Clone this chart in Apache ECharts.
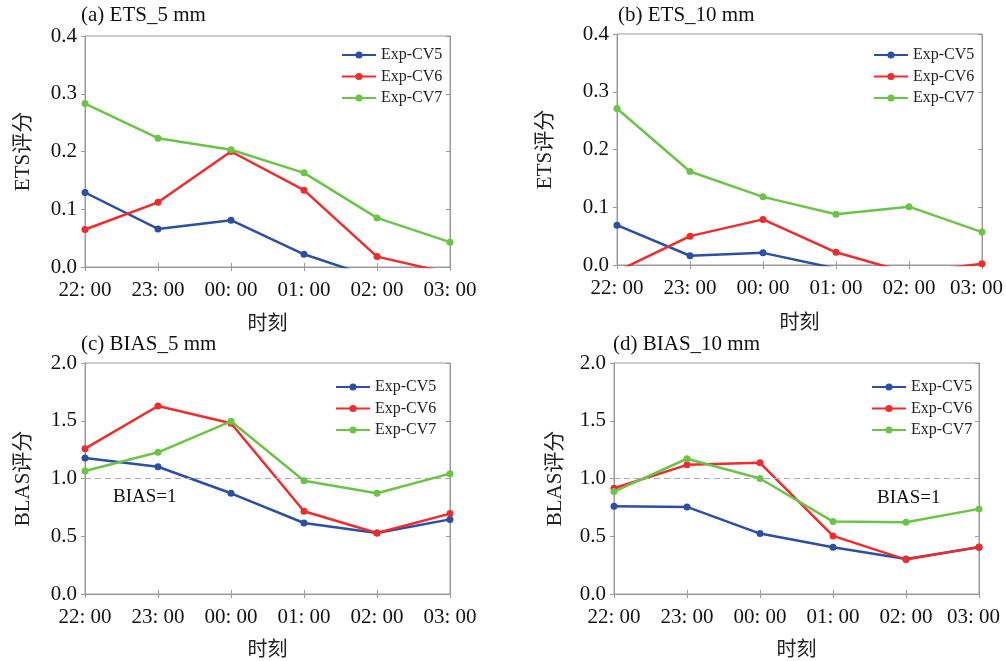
<!DOCTYPE html>
<html>
<head>
<meta charset="utf-8">
<script src="https://cdn.jsdelivr.net/npm/echarts@6/dist/echarts.min.js"></script>
<style>html,body{margin:0;padding:0;background:#fff}#c{width:1006px;height:661px}</style>
</head>
<body>
<div id="c"></div>
<script>
const times = ['22: 00','23: 00','00: 00','01: 00','02: 00','03: 00'];
const seriesNames = ['Exp-CV5','Exp-CV6','Exp-CV7'];
const colors = ['#2b4ea6','#f02b2b','#6cc447'];

const ets5_cv5 = [0.129, 0.066, 0.081, 0.022, -0.020, -0.040];
const ets5_cv6 = [0.065, 0.112, 0.200, 0.133, 0.018, -0.011];
const ets5_cv7 = [0.283, 0.223, 0.203, 0.163, 0.085, 0.043];

const ets10_cv5 = [0.069, 0.016, 0.021, -0.006, -0.020, -0.030];
const ets10_cv6 = [-0.011, 0.050, 0.079, 0.022, -0.014, 0.002];
const ets10_cv7 = [0.271, 0.162, 0.118, 0.088, 0.101, 0.057];

const bias5_cv5 = [1.177, 1.102, 0.872, 0.615, 0.528, 0.646];
const bias5_cv6 = [1.258, 1.628, 1.478, 0.716, 0.528, 0.696];
const bias5_cv7 = [1.065, 1.227, 1.495, 0.981, 0.872, 1.042];

const bias10_cv5 = [0.760, 0.754, 0.523, 0.405, 0.303, 0.405];
const bias10_cv6 = [0.916, 1.118, 1.136, 0.503, 0.298, 0.408];
const bias10_cv7 = [0.887, 1.171, 1.000, 0.627, 0.621, 0.737];

const panelTitles = ['(a) ETS_5 mm','(b) ETS_10 mm','(c) BIAS_5 mm','(d) BIAS_10 mm'];
const yNames = ['ETS评分','ETS评分','BLAS评分','BLAS评分'];
const xName = '时刻';
const yMax = [0.4, 0.4, 2.0, 2.0];
const yInterval = [0.1, 0.1, 0.5, 0.5];
const refValue = 1;
const refLabel = 'BIAS=1';
const panelData = [
  [ets5_cv5, ets5_cv6, ets5_cv7],
  [ets10_cv5, ets10_cv6, ets10_cv7],
  [bias5_cv5, bias5_cv6, bias5_cv7],
  [bias10_cv5, bias10_cv6, bias10_cv7]
];

const FONT = '"Liberation Serif", "Times New Roman", "Noto Sans CJK SC", serif';
const grids = [
  {left: 85, top: 36, width: 365, height: 231},
  {left: 617, top: 34, width: 365, height: 231},
  {left: 85, top: 363, width: 365, height: 231},
  {left: 614, top: 363, width: 365, height: 231}
];
const yNameGap = [51, 61, 51, 48];
const xNameGap = [48, 49, 47, 47];
const legendPos = [
  {left: 336, top: 42}, {left: 868, top: 42}, {left: 330, top: 374}, {left: 866, top: 374}
];
const titlePos = [
  {left: 81, top: 5}, {left: 618, top: 5}, {left: 81, top: 334}, {left: 613, top: 334}
];
const refTextPos = [null, null, {left: 113, top: 488}, {left: 877, top: 489}];

const axisColor = '#9a9a9a';
const option = {
  backgroundColor: '#fff',
  animation: false,
  title: [], grid: [], xAxis: [], yAxis: [], legend: [], series: [], graphic: []
};

for (let p = 0; p < 4; p++) {
  const rightPanel = p % 2 === 1;
  option.title.push({
    text: panelTitles[p], left: titlePos[p].left, top: titlePos[p].top, padding: 0,
    textStyle: {fontFamily: FONT, fontSize: 21, fontWeight: 'normal', color: '#111'}
  });
  option.grid.push(Object.assign({show: true, borderColor: axisColor, borderWidth: 1, backgroundColor: 'transparent', containLabel: false, outerBoundsMode: 'none'}, grids[p]));
  option.xAxis.push({
    type: 'category', gridIndex: p, data: times, boundaryGap: false,
    name: xName, nameLocation: 'middle', nameGap: xNameGap[p],
    nameTextStyle: {fontFamily: FONT, fontSize: 20, color: '#222'},
    axisLine: {lineStyle: {color: axisColor}},
    axisTick: {inside: true, length: 4, interval: 0, lineStyle: {color: axisColor}},
    axisLabel: {
      interval: 0, hideOverlap: false,
      fontFamily: FONT, fontSize: 21, color: '#111', margin: 13,
      formatter: (v, i) => (rightPanel && i === times.length - 1) ? '{s|' + v + '}' : v,
      rich: {s: {fontFamily: FONT, fontSize: 21, color: '#111', padding: [0, 11, 0, 0]}}
    },
    splitLine: {show: false}
  });
  option.xAxis.push({
    type: 'category', gridIndex: p, data: times, boundaryGap: false, position: 'top',
    axisLine: {lineStyle: {color: axisColor}},
    axisTick: {inside: true, length: 4, interval: 0, lineStyle: {color: axisColor}},
    axisLabel: {show: false}, splitLine: {show: false}
  });
  option.yAxis.push({
    type: 'value', gridIndex: p, min: 0, max: yMax[p], interval: yInterval[p],
    name: yNames[p], nameLocation: 'middle', nameGap: yNameGap[p], nameRotate: 90,
    nameTextStyle: {fontFamily: FONT, fontSize: 21, color: '#222'},
    axisLine: {show: true, lineStyle: {color: axisColor}},
    axisTick: {show: true, inside: false, length: 4, lineStyle: {color: axisColor}},
    axisLabel: {fontFamily: FONT, fontSize: 21, color: '#111', margin: 8, formatter: v => v.toFixed(1)},
    splitLine: {show: false}
  });
  option.yAxis.push({
    type: 'value', gridIndex: p, min: 0, max: yMax[p], interval: yInterval[p], position: 'right',
    axisLine: {show: true, lineStyle: {color: axisColor}},
    axisTick: {show: true, inside: true, length: 4, lineStyle: {color: axisColor}},
    axisLabel: {show: false}, splitLine: {show: false}
  });
  option.legend.push({
    orient: 'vertical', left: legendPos[p].left, top: legendPos[p].top,
    itemWidth: 34, itemHeight: 9, itemGap: 5.5,
    data: seriesNames,
    textStyle: {fontFamily: FONT, fontSize: 16, color: '#222'}
  });
  for (let s = 0; s < 3; s++) {
    const ser = {
      name: seriesNames[s], type: 'line', xAxisIndex: p * 2, yAxisIndex: p * 2,
      data: panelData[p][s], clip: true,
      symbol: 'circle', symbolSize: 7,
      lineStyle: {width: 2.5, color: colors[s]},
      itemStyle: {color: colors[s]},
      z: 3 + s
    };
    if (p >= 2 && s === 0) {
      ser.markLine = {
        silent: true, symbol: 'none', label: {show: false},
        lineStyle: {color: '#a8a8a8', type: [6, 4], width: 1},
        data: [{yAxis: refValue}]
      };
    }
    option.series.push(ser);
  }
  if (refTextPos[p]) {
    option.graphic.push({
      type: 'text', left: refTextPos[p].left, top: refTextPos[p].top,
      style: {text: refLabel, font: '19px ' + FONT, fill: '#111'}
    });
  }
}

const chart = echarts.init(document.getElementById('c'));
chart.setOption(option);
</script>
</body>
</html>
